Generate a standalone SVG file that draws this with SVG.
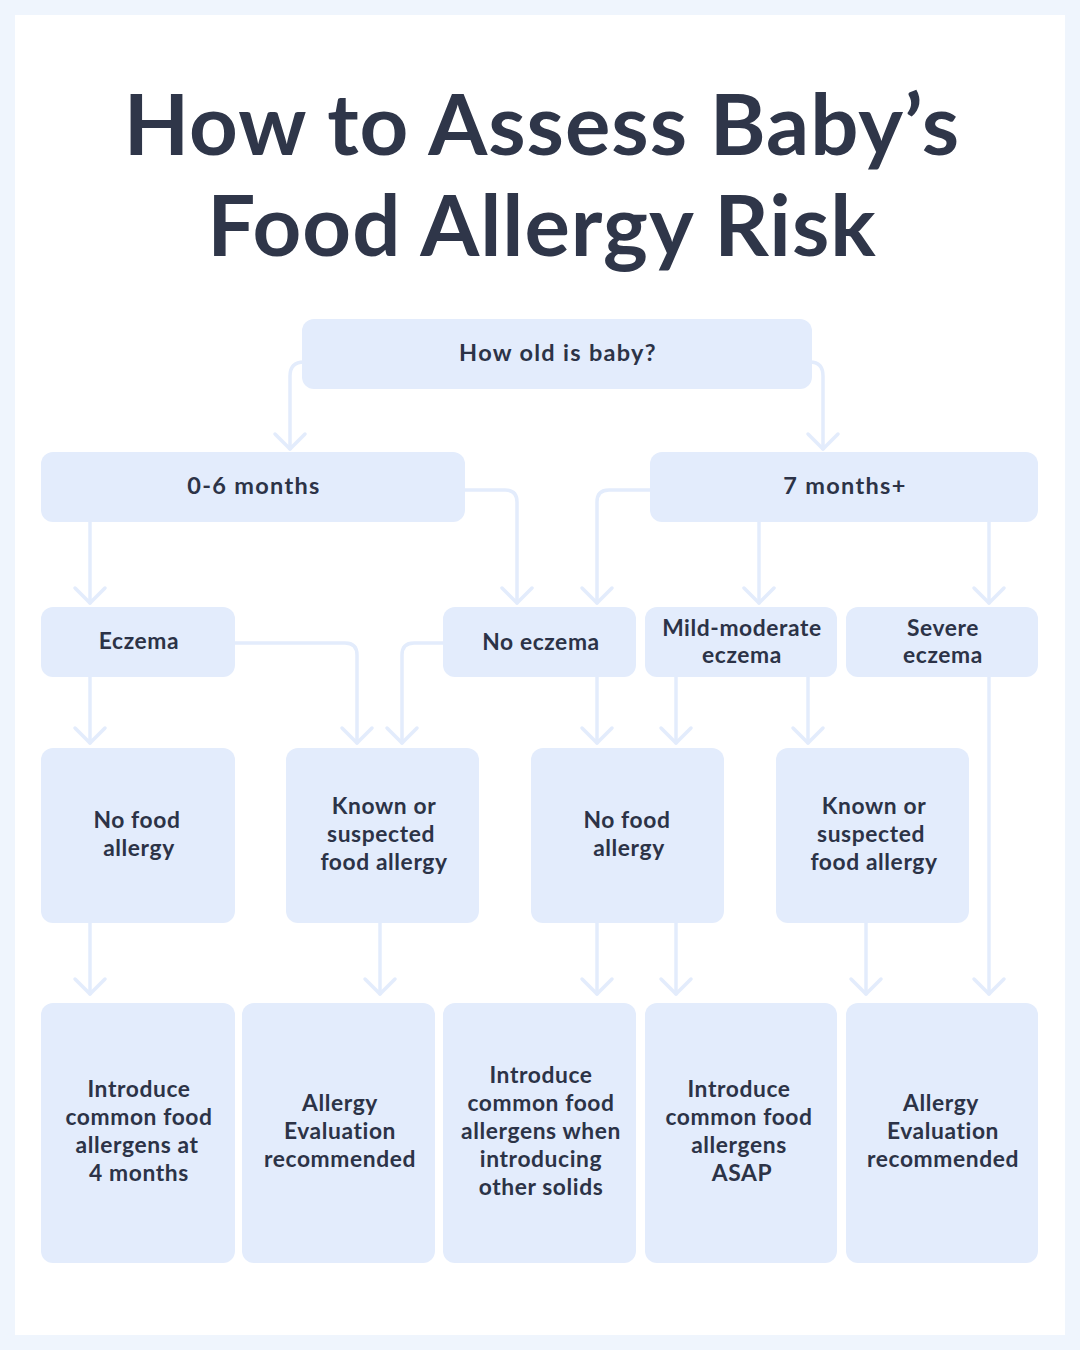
<svg xmlns="http://www.w3.org/2000/svg" width="1080" height="1350" viewBox="0 0 1080 1350">
<defs>
<style>
.node{fill:#e3ecfc;}
.t{font-family:"Lato","Liberation Sans",sans-serif;font-size:22.8px;letter-spacing:0.6px;font-weight:700;fill:#2c3347;text-anchor:middle;}
.t2{font-size:23.5px;letter-spacing:1.3px;}
.title{font-family:"Lato","Liberation Sans",sans-serif;font-size:85px;letter-spacing:1px;font-weight:700;fill:#2f3649;text-anchor:middle;}
.c{fill:none;stroke:#e3ecfc;stroke-width:3.5;stroke-linecap:round;stroke-linejoin:round;marker-end:url(#arr);}
</style>
<marker id="arr" viewBox="-20 -20 40 40" refX="0" refY="0" markerWidth="40" markerHeight="40" markerUnits="userSpaceOnUse" orient="auto">
<path d="M-15,-15 L0,0 L-15,15" fill="none" stroke="#e3ecfc" stroke-width="3.5" stroke-linecap="round" stroke-linejoin="round"/>
</marker>
</defs>
<rect x="0" y="0" width="1080" height="1350" fill="#eff5fd"/>
<rect x="15" y="15" width="1050" height="1320" fill="#ffffff"/>
<g id="title">
<text class="title" x="542" y="155">How to Assess Baby’s</text>
<text class="title" x="542" y="256">Food Allergy Risk</text>
</g>
<g id="connectors">
<path class="c" d="M304,362 Q290,362 290,376 V449"/>
<path class="c" d="M810,362 Q823,362 823,376 V449"/>
<path class="c" d="M465,490 H505 Q517,490 517,502 V603"/>
<path class="c" d="M650,490 H609 Q597,490 597,502 V603"/>
<path class="c" d="M759,522 V603"/>
<path class="c" d="M989,522 V603"/>
<path class="c" d="M90,522 V603"/>
<path class="c" d="M90,677 V743"/>
<path class="c" d="M235,643 H345 Q357,643 357,655 V743"/>
<path class="c" d="M443,643 H414 Q402,643 402,655 V743"/>
<path class="c" d="M597,677 V743"/>
<path class="c" d="M676,677 V743"/>
<path class="c" d="M808,677 V743"/>
<path class="c" d="M989,677 V994"/>
<path class="c" d="M90,923 V994"/>
<path class="c" d="M380,923 V994"/>
<path class="c" d="M597,923 V994"/>
<path class="c" d="M676,923 V994"/>
<path class="c" d="M866,923 V994"/>
</g>
<g id="n-root"><rect class="node" x="302" y="319" width="510" height="70" rx="12"/><text class="t t2" x="558" y="361">How old is baby?</text></g>
<g id="n-0-6"><rect class="node" x="41" y="452" width="424" height="70" rx="12"/><text class="t t2" x="254" y="494">0-6 months</text></g>
<g id="n-7plus"><rect class="node" x="650" y="452" width="388" height="70" rx="12"/><text class="t t2" x="845" y="494">7 months+</text></g>
<g id="n-eczema"><rect class="node" x="41" y="607" width="194" height="70" rx="12"/><text class="t" x="139" y="649">Eczema</text></g>
<g id="n-noeczema"><rect class="node" x="443" y="607" width="193" height="70" rx="12"/><text class="t" x="541" y="650">No eczema</text></g>
<g id="n-mild"><rect class="node" x="645" y="607" width="192" height="70" rx="12"/><text class="t" x="742" y="636">Mild-moderate</text><text class="t" x="742" y="663">eczema</text></g>
<g id="n-severe"><rect class="node" x="846" y="607" width="192" height="70" rx="12"/><text class="t" x="943" y="636">Severe</text><text class="t" x="943" y="663">eczema</text></g>
<g id="n-nofa1"><rect class="node" x="41" y="748" width="194" height="175" rx="12"/><text class="t" x="137" y="828">No food</text><text class="t" x="139" y="856">allergy</text></g>
<g id="n-known1"><rect class="node" x="286" y="748" width="193" height="175" rx="12"/><text class="t" x="384" y="814">Known or</text><text class="t" x="381" y="842">suspected</text><text class="t" x="384" y="870">food allergy</text></g>
<g id="n-nofa2"><rect class="node" x="531" y="748" width="193" height="175" rx="12"/><text class="t" x="627" y="828">No food</text><text class="t" x="629" y="856">allergy</text></g>
<g id="n-known2"><rect class="node" x="776" y="748" width="193" height="175" rx="12"/><text class="t" x="874" y="814">Known or</text><text class="t" x="871" y="842">suspected</text><text class="t" x="874" y="870">food allergy</text></g>
<g id="n-out1"><rect class="node" x="41" y="1003" width="194" height="260" rx="12"/><text class="t" x="139" y="1097">Introduce</text><text class="t" x="139" y="1125">common food</text><text class="t" x="137" y="1153">allergens at</text><text class="t" x="139" y="1181">4 months</text></g>
<g id="n-out2"><rect class="node" x="242" y="1003" width="193" height="260" rx="12"/><text class="t" x="340" y="1111">Allergy</text><text class="t" x="340" y="1139">Evaluation</text><text class="t" x="340" y="1167">recommended</text></g>
<g id="n-out3"><rect class="node" x="443" y="1003" width="193" height="260" rx="12"/><text class="t" x="541" y="1083">Introduce</text><text class="t" x="541" y="1111">common food</text><text class="t" x="541" y="1139">allergens when</text><text class="t" x="541" y="1167">introducing</text><text class="t" x="541" y="1195">other solids</text></g>
<g id="n-out4"><rect class="node" x="645" y="1003" width="192" height="260" rx="12"/><text class="t" x="739" y="1097">Introduce</text><text class="t" x="739" y="1125">common food</text><text class="t" x="739" y="1153">allergens</text><text class="t" x="742" y="1181">ASAP</text></g>
<g id="n-out5"><rect class="node" x="846" y="1003" width="192" height="260" rx="12"/><text class="t" x="941" y="1111">Allergy</text><text class="t" x="943" y="1139">Evaluation</text><text class="t" x="943" y="1167">recommended</text></g>
</svg>
